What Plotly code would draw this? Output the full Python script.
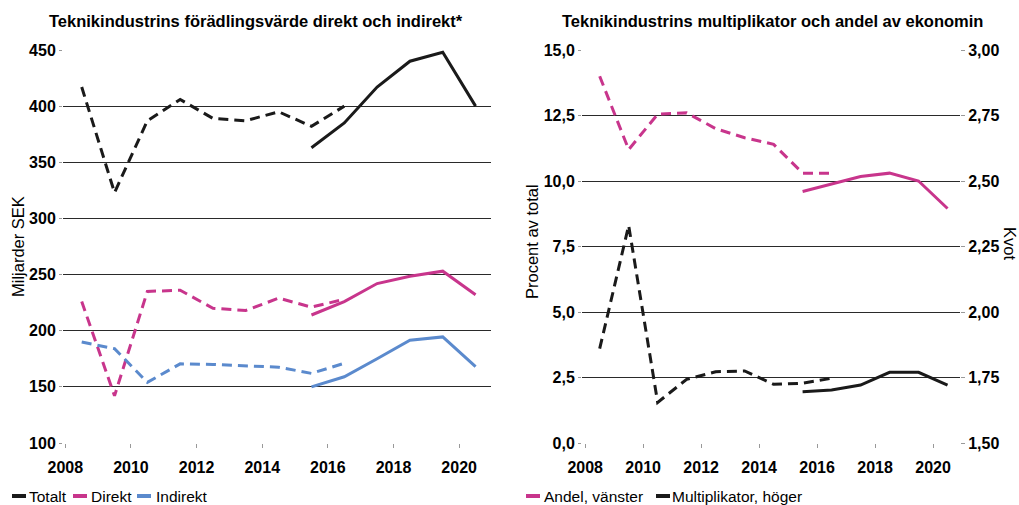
import plotly.graph_objects as go

# ---- data ----
hist_years = [2008, 2009, 2010, 2011, 2012, 2013, 2014, 2015, 2016]
new_years = [2015, 2016, 2017, 2018, 2019, 2020]

totalt_hist = [417, 323, 387, 406, 389, 387, 395, 382, 400]
totalt_new = [363, 385, 417, 440, 448, 400]
direkt_hist = [226, 142, 235, 236, 220, 218, 229, 221, 228]
direkt_new = [214, 226, 242, 248.5, 253, 232]
indirekt_hist = [190, 184, 154, 170.5, 170, 169, 167.5, 162, 171]
indirekt_new = [150, 159, 175, 191.5, 194.5, 168]

andel_hist = [14.0, 11.2, 12.55, 12.6, 12.0, 11.65, 11.4, 10.3, 10.3]
andel_new = [9.6, 9.88, 10.17, 10.3, 10.0, 8.95]
multi_hist = [1.86, 2.33, 1.655, 1.743, 1.772, 1.775, 1.724, 1.728, 1.747]
multi_new = [1.696, 1.702, 1.721, 1.77, 1.77, 1.721]

xticks = [2008, 2010, 2012, 2014, 2016, 2018, 2020]

BLACK = "#1a1a1a"
PINK = "#C8358C"
BLUE = "#5B8ACD"
FONT = "Liberation Sans, Arial, sans-serif"

def mid(years):
    # values refer to whole years, plotted at the middle of each year
    return [y + 0.5 for y in years]

fig = go.Figure()

def add_pair(hist, new, color, name, xa, ya):
    fig.add_trace(go.Scatter(x=mid(hist_years), y=hist, mode="lines", name=name + " (tidigare)",
                             line=dict(color=color, width=3, dash="10px,6px"),
                             showlegend=False, xaxis=xa, yaxis=ya))
    fig.add_trace(go.Scatter(x=mid(new_years), y=new, mode="lines", name=name,
                             line=dict(color=color, width=3), showlegend=False,
                             xaxis=xa, yaxis=ya))

add_pair(totalt_hist, totalt_new, BLACK, "Totalt", "x", "y")
add_pair(direkt_hist, direkt_new, PINK, "Direkt", "x", "y")
add_pair(indirekt_hist, indirekt_new, BLUE, "Indirekt", "x", "y")
add_pair(andel_hist, andel_new, PINK, "Andel, vänster", "x2", "y2")
add_pair(multi_hist, multi_new, BLACK, "Multiplikator, höger", "x2", "y3")

W, H = 1019, 505
ydom = [62 / H, 455 / H]
tickfont = dict(family=FONT, size=16, color="#000", weight="bold")
tfb = dict(family=FONT, size=16.5, color="#000", weight="bold")

xcommon = dict(tickvals=xticks, ticks="outside", ticklen=4, tickcolor="#999",
               showgrid=False, showline=False, zeroline=False, automargin=False,
               tickfont=tickfont, ticklabelstandoff=6)
ycommon = dict(showgrid=True, gridcolor="#2a2a2a", gridwidth=1, zeroline=False,
               showline=False, ticks="outside", ticklen=3, tickcolor="#999",
               automargin=False, tickfont=tickfont)

# legend (swatch + label), laid out like the original
legend_items = [
    ("Totalt", BLACK, 12, 27),
    ("Direkt", PINK, 73, 89),
    ("Indirekt", BLUE, 137, 154),
    ("Andel, vänster", PINK, 526, 542),
    ("Multiplikator, höger", BLACK, 656, 670),
]
LEG_Y = 496
shapes = []
annotations = []
for label, color, sx, tx in legend_items:
    shapes.append(dict(type="line", xref="paper", yref="paper",
                       x0=sx / W, x1=(sx + 14) / W, y0=(H - LEG_Y) / H, y1=(H - LEG_Y) / H,
                       line=dict(color=color, width=4)))
    annotations.append(dict(text=label, x=tx / W, y=(H - LEG_Y) / H, xref="paper", yref="paper",
                            showarrow=False, xanchor="left", yanchor="middle",
                            font=dict(family=FONT, size=15.5, color="#000")))

annotations += [
    dict(text="Teknikindustrins förädlingsvärde direkt och indirekt*",
         x=256 / W, y=(H - 21) / H, xref="paper", yref="paper",
         showarrow=False, font=tfb, xanchor="center", yanchor="middle"),
    dict(text="Teknikindustrins multiplikator och andel av ekonomin",
         x=772 / W, y=(H - 21) / H, xref="paper", yref="paper",
         showarrow=False, font=tfb, xanchor="center", yanchor="middle"),
    dict(text="Miljarder SEK", x=18 / W, y=(H - 247) / H, xref="paper", yref="paper",
         showarrow=False, textangle=-90, font=dict(family=FONT, size=16.5, color="#000"),
         xanchor="center", yanchor="middle"),
    dict(text="Procent av total", x=532 / W, y=(H - 242) / H, xref="paper", yref="paper",
         showarrow=False, textangle=-90, font=dict(family=FONT, size=16.5, color="#000"),
         xanchor="center", yanchor="middle"),
    dict(text="Kvot", x=1010 / W, y=(H - 243) / H, xref="paper", yref="paper",
         showarrow=False, textangle=90, font=dict(family=FONT, size=16.5, color="#000"),
         xanchor="center", yanchor="middle"),
]

fig.update_layout(
    template="none",
    width=W, height=H,
    margin=dict(l=0, r=0, t=0, b=0, pad=0),
    paper_bgcolor="white", plot_bgcolor="white",
    separators=", ",
    showlegend=False,
    hovermode=False,
    font=dict(family=FONT, size=16, color="#000"),
    xaxis=dict(domain=[63 / W, 491 / W], range=[2007.93, 2020.97], anchor="y", **xcommon),
    yaxis=dict(domain=ydom, range=[100, 450], dtick=50, anchor="x", **ycommon),
    xaxis2=dict(domain=[582 / W, 960 / W], range=[2007.89, 2020.93], anchor="y2", **xcommon),
    yaxis2=dict(domain=ydom, range=[0, 15], dtick=2.5, tickformat=".1f", anchor="x2", **ycommon),
    yaxis3=dict(domain=ydom, range=[1.5, 3.0], dtick=0.25, tickformat=".2f",
                overlaying="y2", side="right", anchor="x2", showgrid=False,
                zeroline=False, showline=False, ticks="outside", ticklen=4,
                tickcolor="#999", automargin=False, tickfont=tickfont),
    shapes=shapes,
    annotations=annotations,
)

fig.write_html(
    "out.html",
    config={"displayModeBar": False},
    post_script="document.body.style.margin='0';document.body.style.overflow='hidden';",
)
